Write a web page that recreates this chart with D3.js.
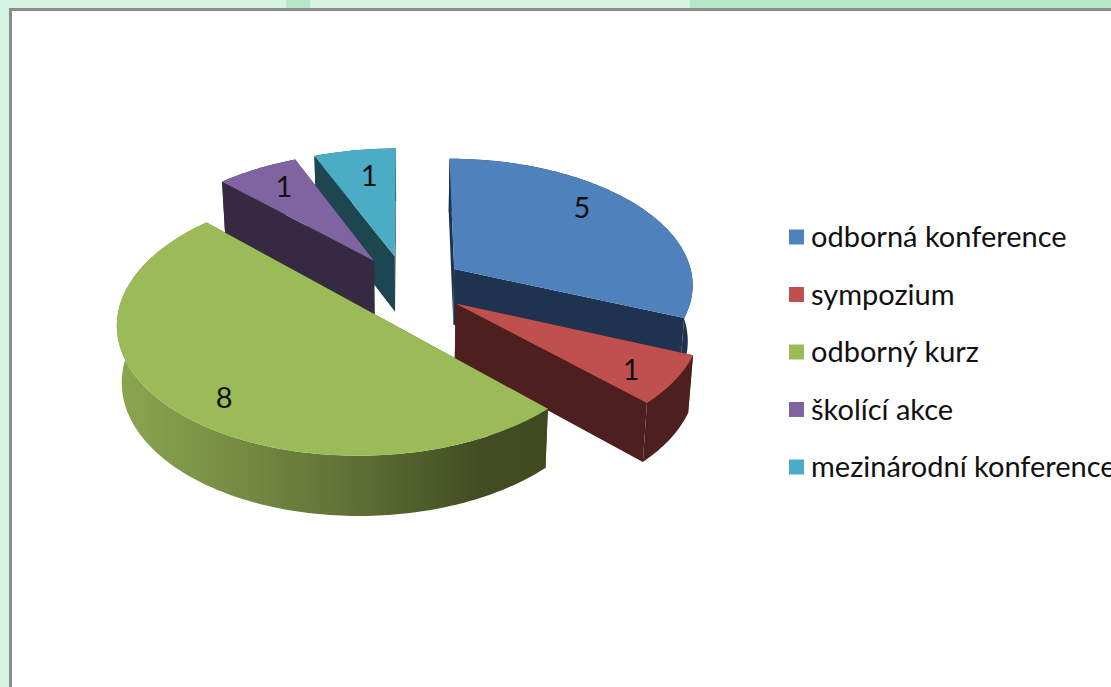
<!DOCTYPE html>
<html>
<head>
<meta charset="utf-8">
<script src="https://cdn.jsdelivr.net/npm/d3@7"></script>
<style>
    html, body { margin: 0; padding: 0; background: #fff; overflow: hidden; }
    text { font-family: Lato, "Open Sans", sans-serif; fill: #111; }
</style>
</head>
<body>
<svg id="chart" width="1111" height="687"></svg>
<script>
const categories = ["odborná konference", "sympozium", "odborný kurz", "školící akce", "mezinárodní konference"]
const values = [5, 1, 8, 1, 1]

const topColors = ["#4f81bd", "#c0504d", "#9bbb59", "#8064a2", "#4bacc6"]
const wallColors = ["#1f3350", "#4d1f1e", "#414a20", "#352a42", "#1e4650"]

// label spot per slice, measured from the slice tip: angle in degrees, share of radius
const labelAngles = [47.8, 125.9, 219, 327.4, 350.5]
const labelRadii = [0.787, 0.827, 0.821, 0.78, 0.736]

// back to front
const drawOrder = [4, 3, 0, 1, 2]

const explode = 0.245
const tilt = 0.11
const wallHeight = 56

const svg = d3.select("#chart")

const x = d3.scaleLinear().domain([-1, 1]).range([166, 646])
const y = d3.scaleLinear().domain([-1, 1]).range([160, 412])
const legendY = d3.scalePoint().domain(categories).range([237, 467])

// ground plane to screen, z = 0 on the top face and 1 on the bottom face
function project(gx, gy, z = 0) {
    const w = 1 - tilt * gy
    return [
        x(gx / w * (1 - 0.017 * z)),
        y(gy / w * (1 + 0.025 * z)) + wallHeight * z
    ]
}

function ground(d, angle, r) {
    const mid = (d.startAngle + d.endAngle) / 2
    return [
        explode * Math.sin(mid) + r * Math.sin(angle),
        -explode * Math.cos(mid) - r * Math.cos(angle)
    ]
}

function arcPoints(d, z) {
    const n = Math.ceil((d.endAngle - d.startAngle) / 0.02)
    return d3.range(n + 1).map(i => {
        const a = d.startAngle + (d.endAngle - d.startAngle) * i / n
        return project(...ground(d, a, 1), z)
    })
}

const line = d3.line()
const slices = d3.pie().sort(null)(values)

// background behind the frame
svg.append("rect").attr("width", 1111).attr("height", 687).attr("fill", "#d5f3e2")
svg.append("rect").attr("x", 690).attr("width", 421).attr("height", 9).attr("fill", "#b5e7c8")
svg.append("rect").attr("x", 286).attr("width", 24).attr("height", 9).attr("fill", "#b5e7c8")
svg.append("rect").attr("x", 9).attr("y", 8).attr("width", 1102).attr("height", 679).attr("fill", "#8c8c8c")
svg.append("rect").attr("x", 12).attr("y", 11).attr("width", 1099).attr("height", 676).attr("fill", "#fff")

const grad = svg.append("defs").append("linearGradient")
    .attr("id", "greenWall")
    .attr("gradientUnits", "userSpaceOnUse")
    .attr("x1", 117).attr("x2", 547).attr("y1", 0).attr("y2", 0)
grad.selectAll("stop")
    .data([[0, "#8ba64f"], [0.3, "#748a42"], [0.55, "#5f7035"], [0.85, "#414c21"], [1, "#404a20"]])
    .join("stop")
    .attr("offset", d => d[0])
    .attr("stop-color", d => d[1])

const pie = svg.append("g")

for (const i of drawOrder) {
    const d = slices[i]
    const tip = ground(d, 0, 0)
    const g = pie.append("g")
    const outerTop = arcPoints(d, 0)
    const outerBottom = arcPoints(d, 1)

    // both straight walls
    for (const a of [d.startAngle, d.endAngle]) {
        const rim = ground(d, a, 1)
        g.append("path")
            .attr("d", line([project(...tip, 0), project(...rim, 0), project(...rim, 1), project(...tip, 1)]) + "Z")
            .attr("fill", wallColors[i])
    }
    // outer wall
    g.append("path")
        .attr("d", line(outerTop.concat(outerBottom.slice().reverse())) + "Z")
        .attr("fill", i === 2 ? "url(#greenWall)" : wallColors[i])
    // top face
    g.append("path")
        .attr("d", line([project(...tip, 0)].concat(outerTop)) + "Z")
        .attr("fill", topColors[i])
}

// value labels
pie.selectAll("text")
    .data(slices)
    .join("text")
    .attr("transform", (d, i) => {
        const p = ground(d, labelAngles[i] * Math.PI / 180, labelRadii[i])
        return `translate(${project(...p)})`
    })
    .attr("text-anchor", "middle")
    .attr("dy", "0.35em")
    .attr("font-size", 29)
    .text(d => d.value)

// legend
const legend = svg.append("g")
    .selectAll("g")
    .data(categories)
    .join("g")
    .attr("transform", d => `translate(789,${legendY(d)})`)

legend.append("rect")
    .attr("y", -7.5)
    .attr("width", 15)
    .attr("height", 15)
    .attr("fill", (d, i) => topColors[i])

legend.append("text")
    .attr("x", 22)
    .attr("dy", "0.35em")
    .attr("font-size", 29)
    .text(d => d)
</script>
</body>
</html>
